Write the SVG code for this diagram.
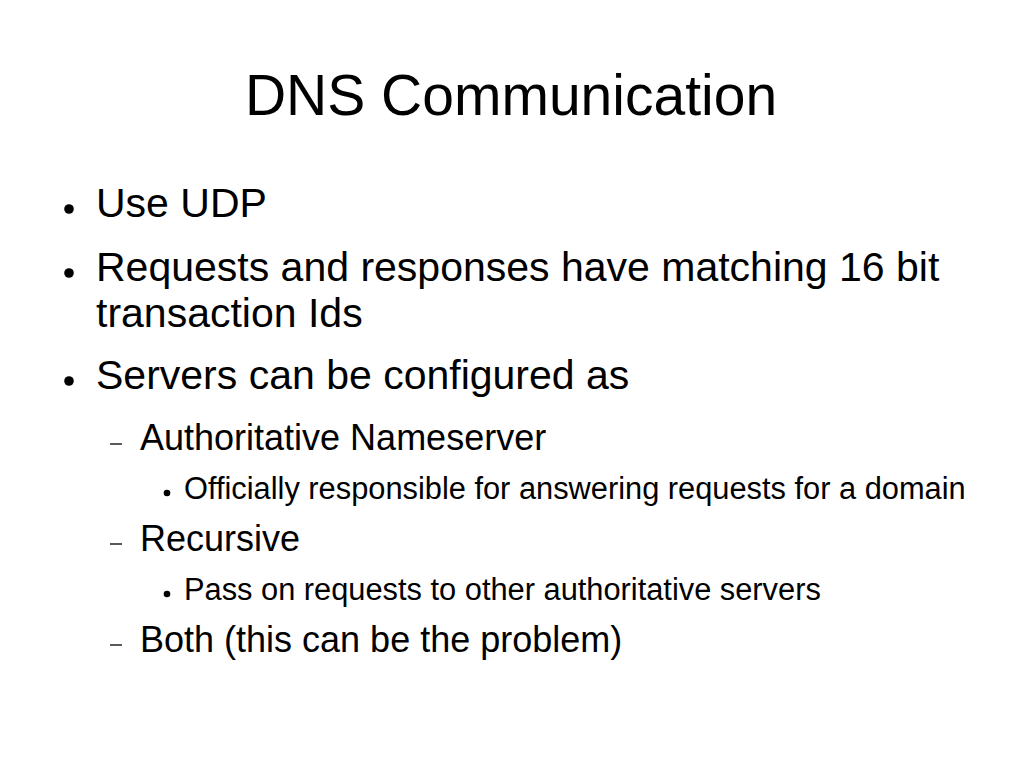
<svg xmlns="http://www.w3.org/2000/svg" width="1023" height="767" viewBox="0 0 1023 767">
<style>
text{font-family:"Liberation Sans",Arial,sans-serif;fill:#000}
.t{font-size:57px}
.l1{font-size:41px}
.l2{font-size:36px}
.l3{font-size:30.8px}
.dash{stroke:#000;stroke-width:1.3}
</style>
<rect width="1023" height="767" fill="#fff"/>
<g id="title"><text class="t" x="511" y="115" text-anchor="middle">DNS Communication</text></g>
<g id="b1"><circle cx="69" cy="209" r="4.8"/><text class="l1" x="96" y="217">Use UDP</text></g>
<g id="b2"><circle cx="69" cy="273" r="4.8"/><text class="l1" x="96" y="281">Requests and responses have matching 16 bit</text><text class="l1" x="96" y="327">transaction Ids</text></g>
<g id="b3"><circle cx="69" cy="381" r="4.8"/><text class="l1" x="96" y="389">Servers can be configured as</text></g>
<g id="b3a"><line class="dash" x1="110" y1="444" x2="122" y2="444"/><text class="l2" x="140" y="450">Authoritative Nameserver</text></g>
<g id="b3a1"><circle cx="167" cy="493" r="3.3"/><text class="l3" x="184" y="499">Officially responsible for answering requests for a domain</text></g>
<g id="b3b"><line class="dash" x1="110" y1="544" x2="122" y2="544"/><text class="l2" x="140" y="551">Recursive</text></g>
<g id="b3b1"><circle cx="167" cy="594" r="3.3"/><text class="l3" x="184" y="600">Pass on requests to other authoritative servers</text></g>
<g id="b3c"><line class="dash" x1="110" y1="645" x2="122" y2="645"/><text class="l2" x="140" y="652">Both (this can be the problem)</text></g>
</svg>
